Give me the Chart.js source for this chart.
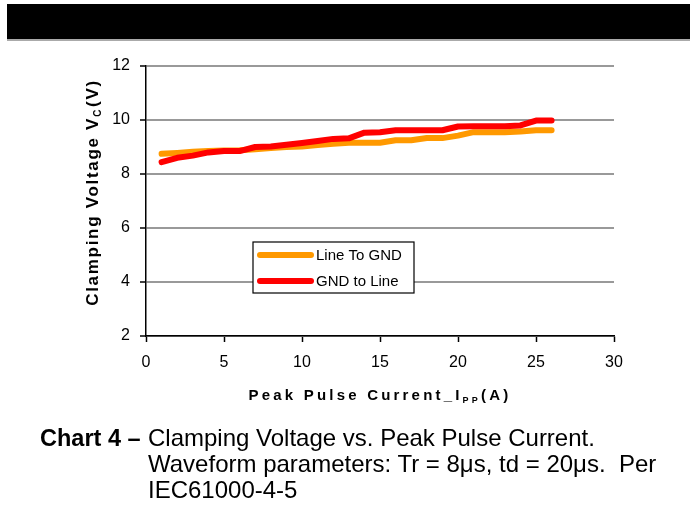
<!DOCTYPE html>
<html>
<head>
<meta charset="utf-8">
<script src="https://cdn.jsdelivr.net/npm/chart.js@4"></script>
<style>
  body { margin: 0; background: #fff; font-family: "Liberation Sans", Arial, sans-serif; }
  #wrap { position: relative; width: 690px; height: 505px; overflow: hidden; }
  #bar { position: absolute; left: 7px; top: 4px; width: 683px; height: 35px; background: #000; border-bottom: 2px solid #aaa; }
  #chart { position: absolute; left: 0; top: 0; }
  .cap { position: absolute; font-size: 24px; line-height: 26px; color: #000; white-space: pre; }
</style>
</head>
<body>
<div id="wrap">
  <div id="bar"></div>
  <canvas id="chart" width="690" height="505"></canvas>
  <div class="cap" style="left:40px; top:425px; font-size:23.5px;"><b>Chart 4 –</b></div>
  <div class="cap" style="left:148px; top:425px;">Clamping Voltage vs. Peak Pulse Current.</div>
  <div class="cap" style="left:148px; top:451px;">Waveform parameters: Tr = 8μs, td = 20μs.  Per</div>
  <div class="cap" style="left:148px; top:477px;">IEC61000-4-5</div>
</div>
<script>
// peak pulse current (A)
const current = [1, 2, 3, 4, 5, 6, 7, 8, 9, 10, 11, 12, 13, 14, 15, 16, 17, 18, 19, 20, 21, 22, 23, 24, 25, 26];
// clamping voltage (V)
const lineToGnd = [8.75, 8.78, 8.82, 8.85, 8.87, 8.88, 8.92, 8.96, 9.00, 9.02, 9.07, 9.12, 9.16, 9.16, 9.16, 9.25, 9.25, 9.33, 9.33, 9.42, 9.55, 9.55, 9.55, 9.57, 9.62, 9.62];
const gndToLine = [8.44, 8.60, 8.68, 8.80, 8.85, 8.85, 9.00, 9.02, 9.08, 9.15, 9.22, 9.30, 9.32, 9.53, 9.55, 9.62, 9.62, 9.62, 9.62, 9.76, 9.77, 9.77, 9.77, 9.80, 9.98, 9.98];
const seriesNames = ['Line To GND', 'GND to Line'];
const seriesColors = ['#FF9900', '#FF0000'];

const FONT = '"Liberation Sans", Arial, sans-serif';

const extras = {
  id: 'extras',
  afterDraw(chart) {
    const ctx = chart.ctx;
    const a = chart.chartArea;
    ctx.save();
    ctx.fillStyle = '#000';

    // x title
    ctx.textBaseline = 'alphabetic';
    ctx.letterSpacing = '3.2px';
    ctx.font = 'bold 15px ' + FONT;
    const p1 = 'Peak Pulse Current_I';
    const w1 = ctx.measureText(p1).width;
    const w3 = ctx.measureText('(A)').width;
    ctx.font = 'bold 9px ' + FONT;
    const w2 = ctx.measureText('PP').width;
    let x = (a.left + a.right) / 2 - (w1 + w2 + w3) / 2;
    const yb = 400;
    ctx.font = 'bold 15px ' + FONT;
    ctx.fillText(p1, x, yb);
    x += w1;
    ctx.font = 'bold 9px ' + FONT;
    ctx.fillText('PP', x, yb + 3);
    x += w2;
    ctx.font = 'bold 15px ' + FONT;
    ctx.fillText('(A)', x, yb);

    // y title
    ctx.save();
    ctx.translate(98, (a.top + a.bottom) / 2 - 8);
    ctx.rotate(-Math.PI / 2);
    ctx.letterSpacing = '1.7px';
    ctx.font = 'bold 17px ' + FONT;
    const q1 = 'Clamping Voltage V';
    const q3 = '(V)';
    const v1 = ctx.measureText(q1).width;
    const v3 = ctx.measureText(q3).width;
    ctx.font = 'bold 10px ' + FONT;
    const v2 = ctx.measureText('C').width;
    let y = -(v1 + v2 + v3) / 2;
    ctx.font = 'bold 17px ' + FONT;
    ctx.fillText(q1, y, 0);
    y += v1;
    ctx.font = 'bold 10px ' + FONT;
    ctx.fillText('C', y, 3);
    y += v2 + 1;
    ctx.font = 'bold 17px ' + FONT;
    ctx.fillText(q3, y, 0);
    ctx.restore();

    // legend box
    ctx.letterSpacing = '0px';
    const bx = 253, by = 242, bw = 161, bh = 51;
    ctx.fillStyle = '#fff';
    ctx.fillRect(bx, by, bw, bh);
    ctx.strokeStyle = '#000';
    ctx.lineWidth = 1.2;
    ctx.strokeRect(bx, by, bw, bh);
    ctx.lineCap = 'round';
    ctx.font = '15px ' + FONT;
    ctx.textBaseline = 'middle';
    seriesNames.forEach((name, i) => {
      const ly = by + 13 + i * 26;
      ctx.strokeStyle = seriesColors[i];
      ctx.lineWidth = 6;
      ctx.beginPath();
      ctx.moveTo(bx + 7, ly);
      ctx.lineTo(bx + 58, ly);
      ctx.stroke();
      ctx.fillStyle = '#000';
      ctx.fillText(name, bx + 63, ly + 1);
    });
    ctx.restore();
  }
};

new Chart(document.getElementById('chart'), {
  type: 'line',
  data: {
    datasets: [
      {
        label: seriesNames[0],
        data: current.map((c, i) => ({ x: c, y: lineToGnd[i] })),
        borderColor: seriesColors[0],
        borderWidth: 6,
        pointRadius: 0,
        tension: 0,
        borderCapStyle: 'round',
        borderJoinStyle: 'round',
        order: 2
      },
      {
        label: seriesNames[1],
        data: current.map((c, i) => ({ x: c, y: gndToLine[i] })),
        borderColor: seriesColors[1],
        borderWidth: 6,
        pointRadius: 0,
        tension: 0,
        borderCapStyle: 'round',
        borderJoinStyle: 'round',
        order: 1
      }
    ]
  },
  options: {
    responsive: false,
    animation: false,
    devicePixelRatio: 1,
    layout: { padding: { top: 66, right: 76, left: 0, bottom: 0 } },
    plugins: { legend: { display: false }, tooltip: { enabled: false } },
    scales: {
      x: {
        type: 'linear',
        min: 0, max: 30,
        ticks: { stepSize: 5, color: '#000', font: { size: 16, family: FONT }, padding: 11, maxRotation: 0 },
        grid: { drawOnChartArea: false, tickLength: 6, tickColor: '#000', tickWidth: 1.5 },
        border: { color: '#000', width: 1.5 },
        afterFit(s) { s.height = 169; }
      },
      y: {
        min: 2, max: 12,
        ticks: { stepSize: 2, color: '#000', font: { size: 16, family: FONT }, padding: 10 },
        grid: { color: '#999', lineWidth: 2, tickLength: 6, tickColor: '#000', tickWidth: 1.5 },
        border: { color: '#000', width: 1.5 },
        afterFit(s) { s.width = 146; }
      }
    }
  },
  plugins: [extras]
});
</script>
</body>
</html>
